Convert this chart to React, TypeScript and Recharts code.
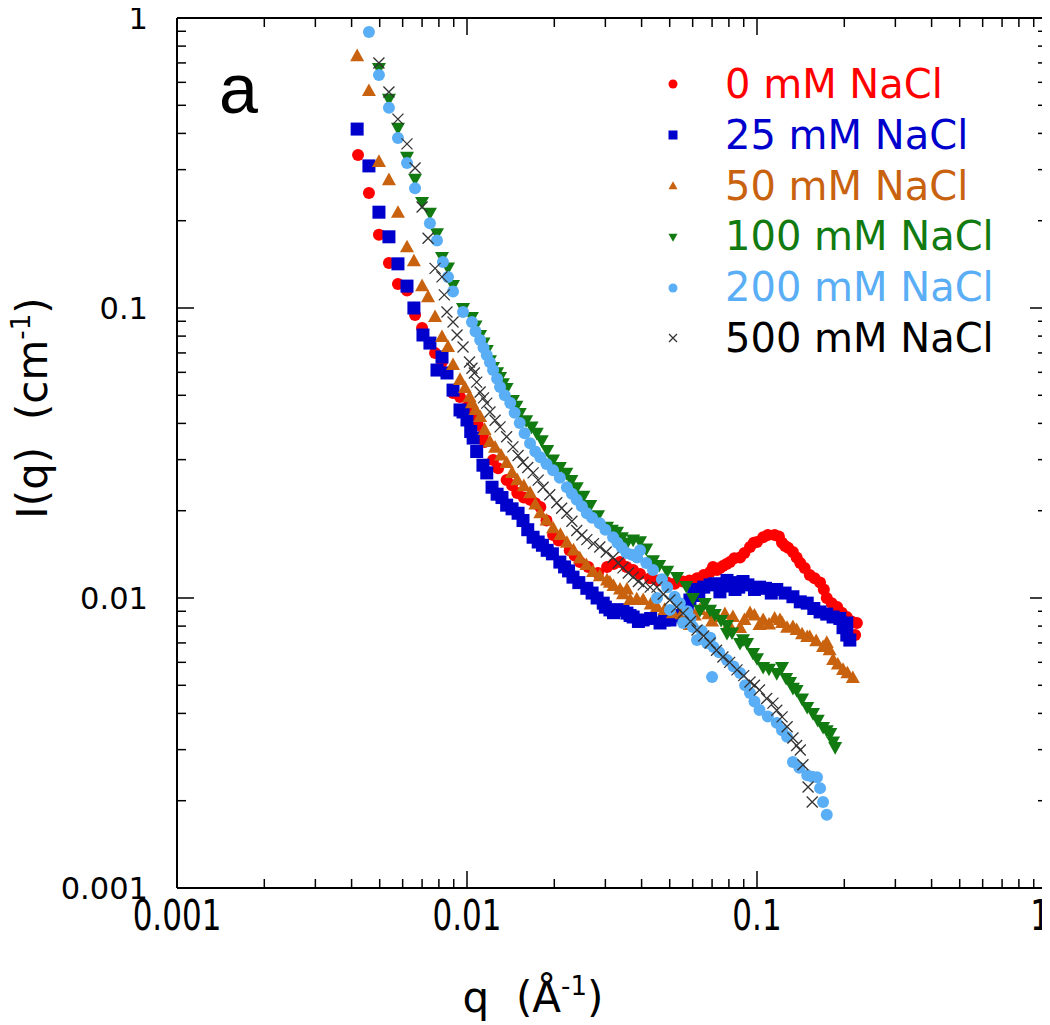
import React from 'react';
import { ScatterChart, Scatter, XAxis, YAxis, Legend, ReferenceLine, Customized } from 'recharts';

// ---------- data (q in 1/Å, I(q) in 1/cm) ----------
const nacl0: [number, number][] = [
  [0.00421, 0.337], [0.00459, 0.249], [0.00497, 0.179], [0.00538, 0.143], [0.00578, 0.121], [0.00621, 0.115],
  [0.00662, 0.0946], [0.0070, 0.0853], [0.00776, 0.070], [0.0082, 0.0651], [0.00895, 0.0509], [0.00946, 0.0493],
  [0.0100, 0.0456], [0.0104, 0.0425], [0.0109, 0.0395], [0.01135, 0.0365], [0.0115, 0.0345], [0.0123, 0.0299],
  [0.0128, 0.028], [0.0137, 0.0255], [0.0143, 0.0245], [0.0149, 0.0230], [0.0157, 0.0222], [0.0165, 0.0218],
  [0.0172, 0.0212], [0.0179, 0.0206], [0.0188, 0.0185], [0.0198, 0.0165], [0.0207, 0.0158], [0.0226, 0.0146],
  [0.0235, 0.014], [0.0245, 0.0133], [0.0262, 0.0128], [0.0283, 0.0122], [0.0304, 0.0128], [0.0320, 0.0131],
  [0.0337, 0.0133], [0.0355, 0.0128], [0.0374, 0.0125], [0.0395, 0.0121], [0.0428, 0.0117], [0.0455, 0.0115],
  [0.0490, 0.0113], [0.0520, 0.0112], [0.0556, 0.0114], [0.0585, 0.0115], [0.0621, 0.0117], [0.0655, 0.0120],
  [0.0689, 0.0123], [0.0705, 0.0128], [0.0728, 0.0125], [0.0745, 0.0127], [0.0763, 0.0129], [0.0785, 0.0131],
  [0.0807, 0.0133], [0.0835, 0.0137], [0.0874, 0.0138], [0.0905, 0.0143], [0.0946, 0.0150], [0.0975, 0.0155],
  [0.100, 0.0156], [0.105, 0.0162], [0.109, 0.0165], [0.115, 0.0165], [0.119, 0.0163], [0.122, 0.0155],
  [0.125, 0.0151], [0.128, 0.0149], [0.133, 0.0144], [0.137, 0.0138], [0.141, 0.0132], [0.146, 0.0127],
  [0.152, 0.0120], [0.158, 0.0117], [0.165, 0.0113], [0.170, 0.0107], [0.174, 0.0100], [0.181, 0.0096],
  [0.189, 0.00931], [0.196, 0.0089], [0.204, 0.0086], [0.212, 0.0083], [0.221, 0.0082], [0.218, 0.00745],
];
const nacl25: [number, number][] = [
  [0.00418, 0.414], [0.00459, 0.309], [0.00497, 0.214], [0.00538, 0.176], [0.00578, 0.142], [0.00621, 0.119],
  [0.00656, 0.100], [0.00705, 0.0807], [0.00745, 0.0757], [0.0082, 0.0678], [0.00788, 0.0611], [0.00853, 0.0597],
  [0.00895, 0.0521], [0.00946, 0.0445], [0.00969, 0.0438], [0.0100, 0.0411], [0.0103, 0.0375], [0.0105, 0.0356],
  [0.0108, 0.032], [0.01135, 0.0287], [0.0117, 0.027], [0.0122, 0.0241], [0.0127, 0.0228], [0.0132, 0.0222],
  [0.0137, 0.0209], [0.0143, 0.0203], [0.0150, 0.0196], [0.0156, 0.0185], [0.0162, 0.0172], [0.0169, 0.0162],
  [0.0176, 0.0156], [0.0182, 0.0152], [0.0189, 0.0146], [0.0197, 0.0142], [0.0209, 0.0133], [0.0217, 0.0128],
  [0.0224, 0.0124], [0.0232, 0.0118], [0.0243, 0.0113], [0.0259, 0.0108], [0.0270, 0.0104], [0.0281, 0.0100],
  [0.0295, 0.0096], [0.0300, 0.0093], [0.0311, 0.0091], [0.0320, 0.0089], [0.0329, 0.0091], [0.0345, 0.0091],
  [0.0356, 0.00887], [0.0365, 0.0087], [0.0374, 0.0086], [0.0390, 0.0083], [0.0405, 0.0084], [0.0430, 0.0085],
  [0.0463, 0.0082], [0.0480, 0.0084], [0.0501, 0.0084], [0.0530, 0.0087], [0.0556, 0.0086], [0.0575, 0.0091],
  [0.0587, 0.00984], [0.0605, 0.0104], [0.0621, 0.0107], [0.063, 0.0102], [0.0655, 0.0109], [0.0689, 0.0111],
  [0.0715, 0.0112], [0.0745, 0.0105], [0.0765, 0.0110], [0.0788, 0.0115], [0.0815, 0.0113], [0.084, 0.0107],
  [0.0865, 0.0109], [0.0895, 0.0114], [0.0930, 0.0111], [0.098, 0.0107], [0.102, 0.0109], [0.107, 0.0108],
  [0.112, 0.0104], [0.117, 0.0107], [0.125, 0.0104], [0.133, 0.0101], [0.141, 0.0097], [0.149, 0.0096],
  [0.157, 0.0092], [0.165, 0.00895], [0.174, 0.0088], [0.183, 0.0086], [0.193, 0.0085], [0.198, 0.0079],
  [0.204, 0.0082], [0.204, 0.00745], [0.209, 0.00716],
];
const nacl50: [number, number][] = [
  [0.00418, 0.739], [0.00459, 0.560], [0.00497, 0.319], [0.00538, 0.276], [0.00578, 0.213], [0.00621, 0.162],
  [0.00656, 0.145], [0.0070, 0.119], [0.00734, 0.109], [0.00776, 0.0931], [0.0082, 0.0794], [0.0086, 0.0734],
  [0.00895, 0.0636], [0.00946, 0.0565], [0.00984, 0.053], [0.0102, 0.0493], [0.0104, 0.047], [0.0107, 0.0445],
  [0.0111, 0.0421], [0.0115, 0.038], [0.0120, 0.0345], [0.0125, 0.033], [0.0131, 0.031], [0.0137, 0.0292],
  [0.0143, 0.027], [0.0149, 0.0255], [0.0157, 0.0243], [0.0165, 0.0230], [0.0172, 0.021], [0.0179, 0.0196],
  [0.0188, 0.0185], [0.0198, 0.0174], [0.0210, 0.0165], [0.0221, 0.0155], [0.0233, 0.0146], [0.0245, 0.0137],
  [0.0258, 0.013], [0.0272, 0.0123], [0.0287, 0.0119], [0.0304, 0.0115], [0.0311, 0.0113], [0.0320, 0.0110],
  [0.0337, 0.0107], [0.0345, 0.0103], [0.0356, 0.0107], [0.0365, 0.00984], [0.0385, 0.0099], [0.0405, 0.00984],
  [0.0430, 0.0095], [0.0452, 0.00931], [0.0480, 0.0091], [0.0513, 0.00887], [0.0550, 0.0088], [0.0587, 0.00807],
  [0.0610, 0.0087], [0.0636, 0.0091], [0.0680, 0.0088], [0.0700, 0.0083], [0.0728, 0.0086], [0.0775, 0.0088],
  [0.0800, 0.0081], [0.0826, 0.0086], [0.0874, 0.00788], [0.0905, 0.0084], [0.0946, 0.00887], [0.0980, 0.0087],
  [0.102, 0.00807], [0.105, 0.0084], [0.110, 0.0081], [0.115, 0.0085], [0.120, 0.0084], [0.122, 0.0082],
  [0.127, 0.0079], [0.133, 0.00794], [0.137, 0.00776], [0.143, 0.0075], [0.149, 0.00734], [0.152, 0.00734],
  [0.160, 0.0071], [0.169, 0.00678], [0.174, 0.0070], [0.178, 0.0066], [0.183, 0.00611], [0.190, 0.0059],
  [0.198, 0.00565], [0.205, 0.0055], [0.214, 0.0053],
];
const nacl100: [number, number][] = [
  [0.00497, 0.672], [0.00538, 0.526], [0.00578, 0.418], [0.00621, 0.332], [0.00662, 0.279], [0.0070, 0.232],
  [0.00745, 0.213], [0.00788, 0.181], [0.0082, 0.150], [0.0086, 0.138], [0.00895, 0.120], [0.00969, 0.100],
  [0.0104, 0.0931], [0.0107, 0.087], [0.0111, 0.0807], [0.0114, 0.076], [0.0117, 0.0716], [0.0120, 0.066],
  [0.0123, 0.0626], [0.0127, 0.060], [0.0130, 0.0578], [0.0133, 0.055], [0.0137, 0.053], [0.0144, 0.0482],
  [0.0148, 0.046], [0.0152, 0.0434], [0.0160, 0.041], [0.0167, 0.039], [0.0174, 0.0371], [0.0181, 0.035],
  [0.0189, 0.0324], [0.0198, 0.030], [0.0209, 0.0283], [0.0220, 0.027], [0.0229, 0.0255], [0.0239, 0.0241],
  [0.0252, 0.0225], [0.0266, 0.0209], [0.0283, 0.0193], [0.0304, 0.0176], [0.0316, 0.0172], [0.0329, 0.0169],
  [0.0342, 0.0162], [0.0356, 0.0155], [0.0374, 0.0159], [0.0395, 0.0157], [0.0415, 0.0148], [0.0438, 0.0135],
  [0.0460, 0.0130], [0.0490, 0.0124], [0.0530, 0.0118], [0.0570, 0.0110], [0.0601, 0.0100], [0.0636, 0.0091],
  [0.0660, 0.0096], [0.0689, 0.0091], [0.0715, 0.0088], [0.0752, 0.0084], [0.0788, 0.00807], [0.0788, 0.00757],
  [0.0820, 0.0076], [0.0874, 0.0070], [0.0895, 0.0072], [0.0924, 0.0070], [0.0969, 0.00646], [0.100, 0.0062],
  [0.105, 0.00578], [0.110, 0.0057], [0.117, 0.00551], [0.122, 0.00578], [0.126, 0.0053], [0.130, 0.00513],
  [0.133, 0.0049], [0.137, 0.00482], [0.143, 0.0045], [0.149, 0.00421], [0.156, 0.00401], [0.162, 0.0038],
  [0.169, 0.00359], [0.174, 0.0035], [0.179, 0.00342], [0.183, 0.0032], [0.186, 0.00306],
];
const nacl200: [number, number][] = [
  [0.00459, 0.895], [0.00497, 0.636], [0.00538, 0.490], [0.00578, 0.386], [0.00621, 0.316], [0.00662, 0.259],
  [0.00745, 0.196], [0.00788, 0.171], [0.00826, 0.144], [0.0086, 0.128], [0.00895, 0.114], [0.00969, 0.0969],
  [0.0104, 0.0895], [0.0107, 0.083], [0.0111, 0.0776], [0.0114, 0.073], [0.0117, 0.0689], [0.0120, 0.065],
  [0.0123, 0.0611], [0.0127, 0.057], [0.0130, 0.0534], [0.0135, 0.050], [0.0141, 0.047], [0.0146, 0.0435],
  [0.0152, 0.0401], [0.0158, 0.037], [0.0165, 0.0342], [0.0172, 0.032], [0.0179, 0.0306], [0.0188, 0.029],
  [0.0198, 0.0276], [0.0209, 0.026], [0.0221, 0.0241], [0.0230, 0.0229], [0.0239, 0.0218], [0.0249, 0.0207],
  [0.0259, 0.0196], [0.0270, 0.0189], [0.0287, 0.0181], [0.0300, 0.0172], [0.0319, 0.0162], [0.0330, 0.0155],
  [0.0342, 0.0149], [0.0355, 0.0143], [0.0370, 0.0141], [0.0386, 0.0138], [0.0395, 0.0146], [0.0415, 0.0132],
  [0.0438, 0.0125], [0.0452, 0.0100], [0.0470, 0.0116], [0.0490, 0.0109], [0.0501, 0.0091], [0.0520, 0.0101],
  [0.0542, 0.0096], [0.0556, 0.0082], [0.0575, 0.0090], [0.0590, 0.0085], [0.0601, 0.00794], [0.0621, 0.00716],
  [0.0645, 0.0077], [0.0672, 0.0070], [0.0690, 0.0073], [0.0700, 0.00534], [0.0708, 0.00678], [0.0740, 0.0065],
  [0.0788, 0.00611], [0.0830, 0.0058], [0.0874, 0.00551], [0.0910, 0.0050], [0.0946, 0.0047], [0.098, 0.0044],
  [0.102, 0.00411], [0.109, 0.0039], [0.117, 0.00371], [0.122, 0.0035], [0.127, 0.00332], [0.133, 0.00272],
  [0.140, 0.0026], [0.149, 0.00245], [0.155, 0.00242], [0.161, 0.00241], [0.165, 0.00221], [0.169, 0.00198],
  [0.174, 0.00179],
];
const nacl500: [number, number][] = [
  [0.00497, 0.70], [0.00538, 0.556], [0.00578, 0.448], [0.00621, 0.368], [0.00662, 0.304], [0.0070, 0.223],
  [0.00734, 0.174], [0.00776, 0.137], [0.0082, 0.128], [0.00835, 0.111], [0.00853, 0.0969], [0.00895, 0.0895],
  [0.00924, 0.0807], [0.00969, 0.0734], [0.0102, 0.0651], [0.0104, 0.062], [0.0106, 0.0597], [0.0108, 0.0555],
  [0.0111, 0.0513], [0.0114, 0.049], [0.0117, 0.047], [0.0120, 0.0438], [0.0125, 0.041], [0.0130, 0.0389],
  [0.0137, 0.036], [0.0144, 0.0332], [0.0150, 0.031], [0.0156, 0.0294], [0.0162, 0.0282], [0.0169, 0.027],
  [0.0176, 0.0255], [0.0183, 0.0241], [0.0193, 0.0227], [0.0204, 0.0213], [0.0212, 0.0204], [0.0221, 0.0196],
  [0.0230, 0.0184], [0.0239, 0.0171], [0.0249, 0.0165], [0.0259, 0.0159], [0.0273, 0.0154], [0.0287, 0.015],
  [0.0302, 0.0144], [0.0319, 0.0138], [0.0332, 0.0132], [0.0345, 0.0127], [0.0360, 0.0122], [0.0374, 0.0118],
  [0.0390, 0.0114], [0.0405, 0.0111], [0.0428, 0.0109], [0.0452, 0.0109], [0.0475, 0.0103], [0.0501, 0.00984],
  [0.0528, 0.0093], [0.0556, 0.00887], [0.0590, 0.0083], [0.0621, 0.00776], [0.0655, 0.0074], [0.0689, 0.0070],
  [0.0725, 0.0066], [0.0763, 0.00626], [0.0805, 0.0060], [0.0853, 0.00565], [0.0900, 0.0054], [0.0946, 0.00513],
  [0.098, 0.0050], [0.102, 0.00482], [0.108, 0.0045], [0.1135, 0.00434], [0.117, 0.0041], [0.122, 0.00389],
  [0.127, 0.0036], [0.133, 0.00329], [0.137, 0.0031], [0.141, 0.00299], [0.144, 0.00266], [0.150, 0.00223],
  [0.155, 0.00198],
];

const seriesNames = ['0 mM NaCl', '25 mM NaCl', '50 mM NaCl', '100 mM NaCl', '200 mM NaCl', '500 mM NaCl'];
const seriesColors = ['#ff0000', '#0000cc', '#c8620f', '#117a11', '#5aaef5', '#333333'];
const legendTextColors = ['#ff0000', '#0000cc', '#c8620f', '#117a11', '#5aaef5', '#000000'];
const seriesShapes = ['circle', 'square', 'triUp', 'triDown', 'circle', 'cross'];
const seriesData = [nacl0, nacl25, nacl50, nacl100, nacl200, nacl500];

const xTicks = [0.001, 0.002, 0.003, 0.004, 0.005, 0.006, 0.007, 0.008, 0.009,
  0.01, 0.02, 0.03, 0.04, 0.05, 0.06, 0.07, 0.08, 0.09,
  0.1, 0.2, 0.3, 0.4, 0.5, 0.6, 0.7, 0.8, 0.9, 1];
const yTicks = [0.001, 0.002, 0.003, 0.004, 0.005, 0.006, 0.007, 0.008, 0.009,
  0.01, 0.02, 0.03, 0.04, 0.05, 0.06, 0.07, 0.08, 0.09,
  0.1, 0.2, 0.3, 0.4, 0.5, 0.6, 0.7, 0.8, 0.9, 1];
const decadeLabels: Record<string, string> = { '0.001': '0.001', '0.01': '0.01', '0.1': '0.1', '1': '1' };

// ---------- layout ----------
const W = 1050;
const H = 1025;
const PLOT_W = 870;
const PLOT_H = 870;
const MARGIN = { top: 18, right: 3, bottom: 77, left: 97 };
const Y_AXIS_W = 80;
const X_AXIS_H = 60;
const FONT = '"DejaVu Sans", Verdana, sans-serif';

function marker(kind: string, cx: number, cy: number, s: number, color: string) {
  switch (kind) {
    case 'circle':
      return <circle cx={cx} cy={cy} r={s / 2} fill={color} />;
    case 'square':
      return <rect x={cx - s / 2} y={cy - s / 2} width={s} height={s} fill={color} />;
    case 'triUp': {
      const h = s * 0.9;
      return <polygon points={`${cx},${cy - h * 0.6} ${cx - s / 2},${cy + h * 0.4} ${cx + s / 2},${cy + h * 0.4}`} fill={color} />;
    }
    case 'triDown': {
      const h = s * 0.9;
      return <polygon points={`${cx},${cy + h * 0.6} ${cx - s / 2},${cy - h * 0.4} ${cx + s / 2},${cy - h * 0.4}`} fill={color} />;
    }
    default:
      return (
        <path d={`M${cx - s / 2},${cy - s / 2}L${cx + s / 2},${cy + s / 2}M${cx - s / 2},${cy + s / 2}L${cx + s / 2},${cy - s / 2}`}
          stroke={color} strokeWidth={1.3} fill="none" />
      );
  }
}

const markerSize: Record<string, number> = { circle: 12, square: 13, triUp: 14, triDown: 14, cross: 11 };

const XTick = (props: any) => {
  const { x, y, payload } = props;
  const lab = decadeLabels[String(payload.value)];
  const len = lab ? 17 : 9;
  const isLast = payload.value === 1;
  return (
    <g>
      <line x1={x} x2={x} y1={y} y2={y - len} stroke="#000" strokeWidth={1.5} />
      <line x1={x} x2={x} y1={y - PLOT_H} y2={y - PLOT_H + len} stroke="#000" strokeWidth={1.5} />
      {lab && (
        <text transform={`translate(${isLast ? x + 3 : x},${y + 42}) scale(1,1.4)`} textAnchor={isLast ? 'end' : 'middle'}
          fontFamily={FONT} fontSize={31} fill="#000">{lab}</text>
      )}
    </g>
  );
};

const YTick = (props: any) => {
  const { x, y, payload } = props;
  const lab = decadeLabels[String(payload.value)];
  const len = lab ? 17 : 9;
  return (
    <g>
      <line x1={x} x2={x + len} y1={y} y2={y} stroke="#000" strokeWidth={1.5} />
      <line x1={x + PLOT_W} x2={x + PLOT_W - len} y1={y} y2={y} stroke="#000" strokeWidth={1.5} />
      {lab && (
        <text x={x - 29} y={y} dy="0.36em" textAnchor="end" fontFamily={FONT} fontSize={30.5} fill="#000">{lab}</text>
      )}
    </g>
  );
};

const XTitle = (props: any) => {
  const vb = props.viewBox || { x: MARGIN.left + Y_AXIS_W, y: MARGIN.top + PLOT_H, width: PLOT_W };
  const cx = vb.x + vb.width / 2 - 79;
  return (
    <text x={cx} y={vb.y + 124} textAnchor="middle" fontFamily={FONT} fontSize={42} fill="#000">
      q{'\u00a0\u00a0'}(Å<tspan dy={-17} fontSize={26}>-1</tspan><tspan dy={17}>)</tspan>
    </text>
  );
};

const YTitle = (props: any) => {
  const vb = props.viewBox || { x: MARGIN.left, y: MARGIN.top, height: PLOT_H };
  const cy = vb.y + vb.height / 2 - 45;
  const bx = vb.x - 50;
  return (
    <text transform={`translate(${bx},${cy}) rotate(-90)`} textAnchor="middle" fontFamily={FONT} fontSize={42} fill="#000">
      I(q){'\u00a0\u00a0'}(cm<tspan dy={-17} fontSize={26}>-1</tspan><tspan dy={17}>)</tspan>
    </text>
  );
};

const PanelLetter = () => (
  <text x={219} y={113} fontFamily='"Liberation Sans", Arial, sans-serif' fontSize={70} fill="#000">a</text>
);

const LegendContent = () => (
  <div style={{ fontFamily: FONT, fontSize: 40 }}>
    {seriesNames.map((name, i) => (
      <div key={name} style={{ display: 'flex', alignItems: 'center', height: 50.8 }}>
        <svg width={30} height={30} style={{ display: 'block' }}>
          {marker(seriesShapes[i], 15, 15, seriesShapes[i] === 'cross' ? 8 : 9, seriesColors[i])}
        </svg>
        <span style={{ marginLeft: 37, color: legendTextColors[i], lineHeight: '50.8px', whiteSpace: 'nowrap' }}>{name}</span>
      </div>
    ))}
  </div>
);

export default function App() {
  return (
    <div style={{ width: W, height: H, marginLeft: -8, marginTop: -8 }}>
      <ScatterChart width={W} height={H} margin={MARGIN}>
        <XAxis
          type="number"
          dataKey="q"
          scale="log"
          domain={[0.001, 1]}
          allowDataOverflow
          ticks={xTicks}
          interval={0}
          height={X_AXIS_H}
          tickSize={0}
          tickMargin={0}
          tickLine={false}
          tick={<XTick />}
          axisLine={{ stroke: '#000', strokeWidth: 2 }}
          label={<XTitle />}
        />
        <YAxis
          type="number"
          dataKey="I"
          scale="log"
          domain={[0.001, 1]}
          allowDataOverflow
          ticks={yTicks}
          interval={0}
          width={Y_AXIS_W}
          tickSize={0}
          tickMargin={0}
          tickLine={false}
          tick={<YTick />}
          axisLine={{ stroke: '#000', strokeWidth: 2 }}
          label={<YTitle />}
        />
        <ReferenceLine y={1} stroke="#000" strokeWidth={2} />
        <ReferenceLine x={1} stroke="#000" strokeWidth={2} />
        {seriesData.map((arr, i) => (
          <Scatter
            key={seriesNames[i]}
            name={seriesNames[i]}
            data={arr.map(([q, I]) => ({ q, I }))}
            fill={seriesColors[i]}
            isAnimationActive={false}
            shape={(p: any) => marker(seriesShapes[i], p.cx, p.cy, markerSize[seriesShapes[i]], seriesColors[i])}
          />
        ))}
        <Legend
          layout="horizontal"
          verticalAlign="middle"
          align="center"
          content={<LegendContent />}
          wrapperStyle={{ left: 658, top: 59, width: 390, height: 310 }}
        />
        <Customized component={PanelLetter} />
      </ScatterChart>
    </div>
  );
}
